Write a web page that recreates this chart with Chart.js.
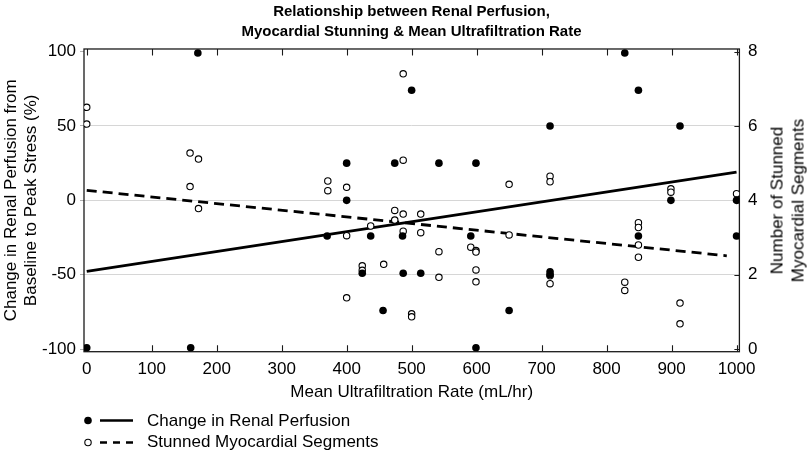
<!DOCTYPE html>
<html><head><meta charset="utf-8">
<script src="https://cdn.jsdelivr.net/npm/chart.js@4.4.1/dist/chart.umd.min.js"></script>
<style>
html,body{margin:0;padding:0;background:#fff;}
#wrap{position:relative;width:807px;height:459px;font-family:'Liberation Sans',Arial,Helvetica,sans-serif;color:#000;overflow:hidden;}
#c{position:absolute;left:0;top:0;}
.rtitle{position:absolute;left:637.5px;top:179.5px;width:300px;height:41px;line-height:20.5px;font-size:17px;text-align:center;transform:rotate(-90deg);transform-origin:50% 50%;white-space:nowrap;}
.legend{position:absolute;left:80px;top:410px;font-size:17px;}
.legend .row{height:21.5px;display:flex;align-items:center;white-space:nowrap;}
.legend svg{display:block;margin-right:7px;}
</style>
</head><body>
<div id="wrap">
<canvas id="c" width="807" height="459"></canvas>
<div class="rtitle">Number of Stunned<br>Myocardial Segments</div>
<div class="legend">
  <div class="row"><svg width="60" height="21" viewBox="0 0 60 21"><circle cx="8" cy="10.5" r="3.8" fill="#000"/><line x1="20" y1="10.5" x2="53" y2="10.5" stroke="#000" stroke-width="2.7"/></svg><span>Change in Renal Perfusion</span></div>
  <div class="row"><svg width="60" height="21" viewBox="0 0 60 21"><circle cx="8" cy="10.5" r="3.2" fill="#fff" stroke="#000" stroke-width="1.1"/><line x1="20" y1="10.5" x2="53" y2="10.5" stroke="#000" stroke-width="2.7" stroke-dasharray="7 6"/></svg><span>Stunned Myocardial Segments</span></div>
</div>
</div>
<script>
// ---- data ----
const renalX = [0,160,171,370,400,400,424,437,456,474,486,487,500,514,542,591,599,599,650,713,713,713,828,849,849,899,913,1000,1000];
const renalY = [-99,-99,99,-24,25,0,-49,-24,-74,25,-24,-49,74,-49,25,-24,25,-99,-74,50,-48,-50,99,74,-24,0,50,0,-24];

const stunX = [0,0,159,172,159,172,371,371,400,400,400,424,424,437,457,474,474,487,487,487,487,500,500,514,514,542,542,591,599,599,599,599,650,650,713,713,713,713,828,828,849,849,849,849,899,899,913,913,1000];
const stunY = [6.5,6.05,5.27,5.11,4.37,3.78,4.52,4.26,4.35,3.05,1.38,2.24,2.12,3.31,2.28,3.73,3.47,7.4,5.08,3.63,3.17,0.95,0.87,3.63,3.13,2.62,1.93,2.74,2.65,2.61,2.13,1.81,4.43,3.07,4.65,4.5,1.97,1.76,1.8,1.58,3.4,3.27,2.8,2.47,4.31,4.22,1.24,0.68,4.18];

const renalTrendX = [0, 1000];
const renalTrendY = [-47.8, 18.9];
const stunTrendX = [0, 985];
const stunTrendY = [4.27, 2.51];

const xTicks = [0,100,200,300,400,500,600,700,800,900,1000];
const yTicks = [-100,-50,0,50,100];
const y2Ticks = [0,2,4,6,8];

// ---- chart ----
const FONT = "'Liberation Sans', Arial, Helvetica, sans-serif";
const pts = (xs, ys) => xs.map((x, i) => ({x, y: ys[i]}));
const plain = v => String(v);

const frameTicks = {
  id: 'frameTicks',
  beforeDatasetsDraw(chart) {
    const {ctx, chartArea: a, scales: {x, y2}} = chart;
    ctx.save();
    ctx.strokeStyle = '#1a1a1a';
    ctx.lineWidth = 1.3;
    ctx.strokeRect(a.left, a.top, a.right - a.left, a.bottom - a.top);
    ctx.lineWidth = 1.1;
    ctx.beginPath();
    xTicks.forEach(v => {
      const px = Math.round(x.getPixelForValue(v)) + 0.5;
      ctx.moveTo(px, a.bottom); ctx.lineTo(px, a.bottom - 6.5);
      ctx.moveTo(px, a.top); ctx.lineTo(px, a.top + 6.5);
    });
    y2Ticks.forEach(v => {
      const py = Math.round(y2.getPixelForValue(v)) + 0.5;
      ctx.moveTo(a.right, py); ctx.lineTo(a.right - 5, py);
    });
    ctx.stroke();
    ctx.restore();
  }
};

new Chart(document.getElementById('c'), {
  type: 'scatter',
  data: {
    datasets: [
      {
        label: 'Change in Renal Perfusion',
        data: pts(renalX, renalY),
        yAxisID: 'y',
        pointRadius: 3.8, pointHoverRadius: 3.8,
        backgroundColor: '#000', borderColor: '#000', borderWidth: 0
      },
      {
        label: 'Stunned Myocardial Segments',
        data: pts(stunX, stunY),
        yAxisID: 'y2',
        pointRadius: 3.2, pointHoverRadius: 3.2,
        backgroundColor: '#fff', borderColor: '#000', borderWidth: 1.1
      },
      {
        type: 'line',
        label: 'Renal trend',
        data: pts(renalTrendX, renalTrendY),
        yAxisID: 'y',
        borderColor: '#000', borderWidth: 2.8,
        pointRadius: 0, fill: false, tension: 0
      },
      {
        type: 'line',
        label: 'Stunned trend',
        data: pts(stunTrendX, stunTrendY),
        yAxisID: 'y2',
        borderColor: '#000', borderWidth: 2.8, borderDash: [10, 6],
        pointRadius: 0, fill: false, tension: 0
      }
    ]
  },
  options: {
    responsive: false,
    animation: false,
    devicePixelRatio: 1,
    layout: { padding: { left: 0, right: -16, top: 0, bottom: 52.3 } },
    plugins: {
      legend: { display: false },
      tooltip: { enabled: false },
      title: {
        display: true,
        text: ['Relationship between Renal Perfusion,', 'Myocardial Stunning & Mean Ultrafiltration Rate'],
        color: '#000',
        font: { family: FONT, size: 15, weight: 'bold', lineHeight: 1.333 },
        padding: { top: 2, bottom: 7 }
      }
    },
    scales: {
      x: {
        type: 'linear', position: 'bottom',
        min: -4.2, max: 1004.4,
        afterBuildTicks: s => { s.ticks = xTicks.map(v => ({value: v})); },
        afterFit: s => { s.height = 55; },
        ticks: { color: '#000', font: { family: FONT, size: 17 }, padding: 7, maxRotation: 0, autoSkip: false, callback: plain },
        grid: { display: false, drawTicks: false },
        border: { display: false },
        title: { display: true, text: 'Mean Ultrafiltration Rate (mL/hr)', color: '#000',
                 font: { family: FONT, size: 17, lineHeight: 1.15 }, padding: { top: 0, bottom: 5 } }
      },
      y: {
        type: 'linear', position: 'left',
        min: -101.7, max: 101.7,
        afterBuildTicks: s => { s.ticks = yTicks.map(v => ({value: v})); },
        afterFit: s => { s.width = 84; },
        ticks: { color: '#000', font: { family: FONT, size: 17 }, padding: 4, callback: plain },
        grid: {
          color: c => (c.tick && Math.abs(c.tick.value) === 100) ? 'rgba(0,0,0,0)' : '#d6d6d6',
          tickColor: '#b0b0b0', lineWidth: 1, drawTicks: true, tickLength: 4
        },
        border: { display: false },
        title: { display: true, text: ['Change in Renal Perfusion from', 'Baseline to Peak Stress (%)'], color: '#000',
                 font: { family: FONT, size: 17, lineHeight: 1.15 }, padding: { top: 2, bottom: 0 } }
      },
      y2: {
        type: 'linear', position: 'right',
        min: -0.068, max: 8.068,
        afterBuildTicks: s => { s.ticks = y2Ticks.map(v => ({value: v})); },
        afterFit: s => { s.width = 83.6; },
        ticks: { color: '#000', font: { family: FONT, size: 17 }, padding: 8.5, callback: plain },
        grid: { display: false, drawTicks: false },
        border: { display: false }
      }
    }
  },
  plugins: [frameTicks]
});
</script>
</body></html>
